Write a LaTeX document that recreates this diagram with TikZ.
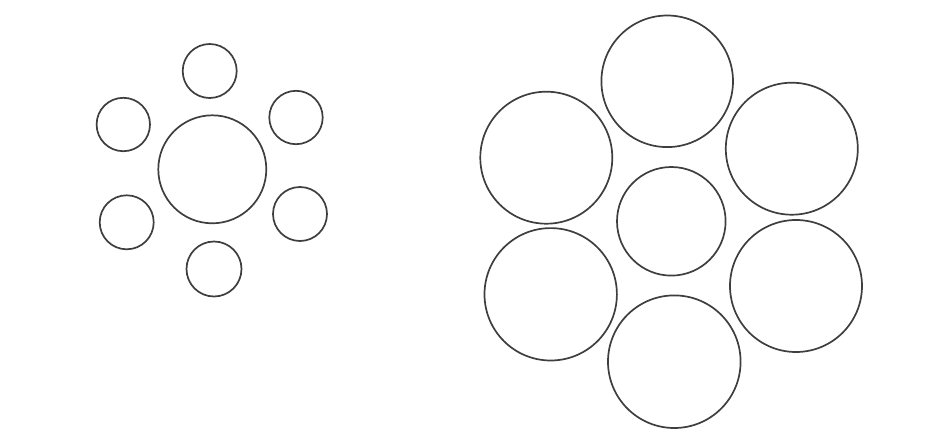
\documentclass[tikz,border=0pt]{standalone}
\usepackage{tikz}
\definecolor{ink}{HTML}{3E3E3E}

\begin{document}
\begin{tikzpicture}[x=1pt,y=-1pt,
  ring/.style={draw=ink,line width=1.7pt},
  big/.style={ring},
  small/.style={ring}]
  \useasboundingbox (0,0) rectangle (927,434);
  % left figure: large centre, small surround
  \coordinate (L) at (212.3,169.3);
  \draw[ring] (L) circle (54);
  \draw[small] (209.7,71) circle (27);
  \draw[small] (123.3,124.5) circle (26.7);
  \draw[small] (296,117.5) circle (26.7);
  \draw[small] (126.7,222.3) circle (27);
  \draw[small] (300,214) circle (27);
  \draw[small] (214,269) circle (27.5);
  % right figure: small centre, large surround
  \coordinate (R) at (671.3,221.3);
  \draw[ring] (R) circle (54.3);
  \draw[big] (667.2,81.3) circle (65.8);
  \draw[big] (546.3,157.7) circle (66);
  \draw[big] (791.8,148.7) circle (66);
  \draw[big] (550.7,294.3) circle (66.2);
  \draw[big] (796,286) circle (66);
  \draw[big] (674.3,361.7) circle (66.3);
\end{tikzpicture}
\end{document}
